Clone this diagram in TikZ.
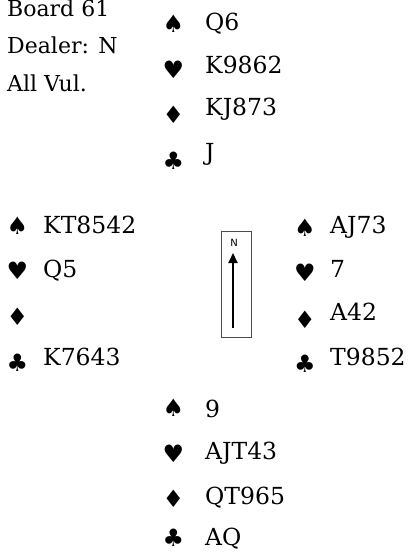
\documentclass[tikz,border=0pt]{standalone}
\usepackage{fontspec}
\setmainfont{DejaVu Serif}
\newfontfamily\suitfont{DejaVu Sans}
\usetikzlibrary{arrows.meta}

\begin{document}
\begin{tikzpicture}[x=1pt,y=1pt,yscale=-1,
  cards/.style={anchor=base west,inner sep=0pt,font=\fontsize{23.5}{28}\selectfont},
  suit/.style={anchor=center,inner sep=0pt,font=\suitfont\fontsize{24}{28}\selectfont},
  info/.style={anchor=base west,inner sep=0pt,font=\fontsize{22}{26}\selectfont}]
\useasboundingbox (0,0) rectangle (414,552);

% Board info
\node[info] (board) at (7,16) {Board 61};
\node[info] (dealer) at (7,53) {Dealer: N};
\node[info] (vul) at (7,91) {All Vul.};

% North hand
\node[suit] (ns) at (173.5,24) {♠};
\node[cards] (nsc) at (205,30) {Q6};
\node[suit] (nh) at (173.5,70) {♥};
\node[cards] (nhc) at (205,73) {K9862};
\node[suit] (nd) at (173.5,115) {♦};
\node[cards] (ndc) at (205,115) {KJ873};
\node[suit] (nc) at (173.5,161) {♣};
\node[cards] (ncc) at (205,160) {J};

% West hand
\node[suit] (ws) at (17.5,226) {♠};
\node[cards] (wsc) at (43,233) {KT8542};
\node[suit] (wh) at (17.5,271) {♥};
\node[cards] (whc) at (43,277) {Q5};
\node[suit] (wd) at (17.5,317) {♦};
\node[suit] (wc) at (17.5,363) {♣};
\node[cards] (wcc) at (43,365) {K7643};

% East hand
\node[suit] (es) at (305,228) {♠};
\node[cards] (esc) at (330,233) {AJ73};
\node[suit] (eh) at (305,272.5) {♥};
\node[cards] (ehc) at (330,277) {7};
\node[suit] (ed) at (305,319.5) {♦};
\node[cards] (edc) at (330,320) {A42};
\node[suit] (ec) at (305,363.5) {♣};
\node[cards] (ecc) at (330,365) {T9852};

% South hand
\node[suit] (ss) at (173.5,408) {♠};
\node[cards] (ssc) at (205,417) {9};
\node[suit] (sh) at (173.5,454) {♥};
\node[cards] (shc) at (205,459) {AJT43};
\node[suit] (sd) at (173.5,499) {♦};
\node[cards] (sdc) at (205,504) {QT965};
\node[suit] (sc) at (173.5,538) {♣};
\node[cards] (scc) at (205,545) {AQ};

% Compass
\node[draw=black!70,line width=0.8pt,minimum width=30,minimum height=106,inner sep=0pt] (compass) at (236,284) {};
\node[font=\suitfont\fontsize{10}{12}\selectfont,inner sep=0pt] (north) at (234,243) {N};
\coordinate (tail) at (233,328);
\coordinate (tip) at (233,253);
\draw[line width=2pt,-{Triangle[width=9pt,length=10pt]}] (tail) -- (tip);

\end{tikzpicture}
\end{document}
